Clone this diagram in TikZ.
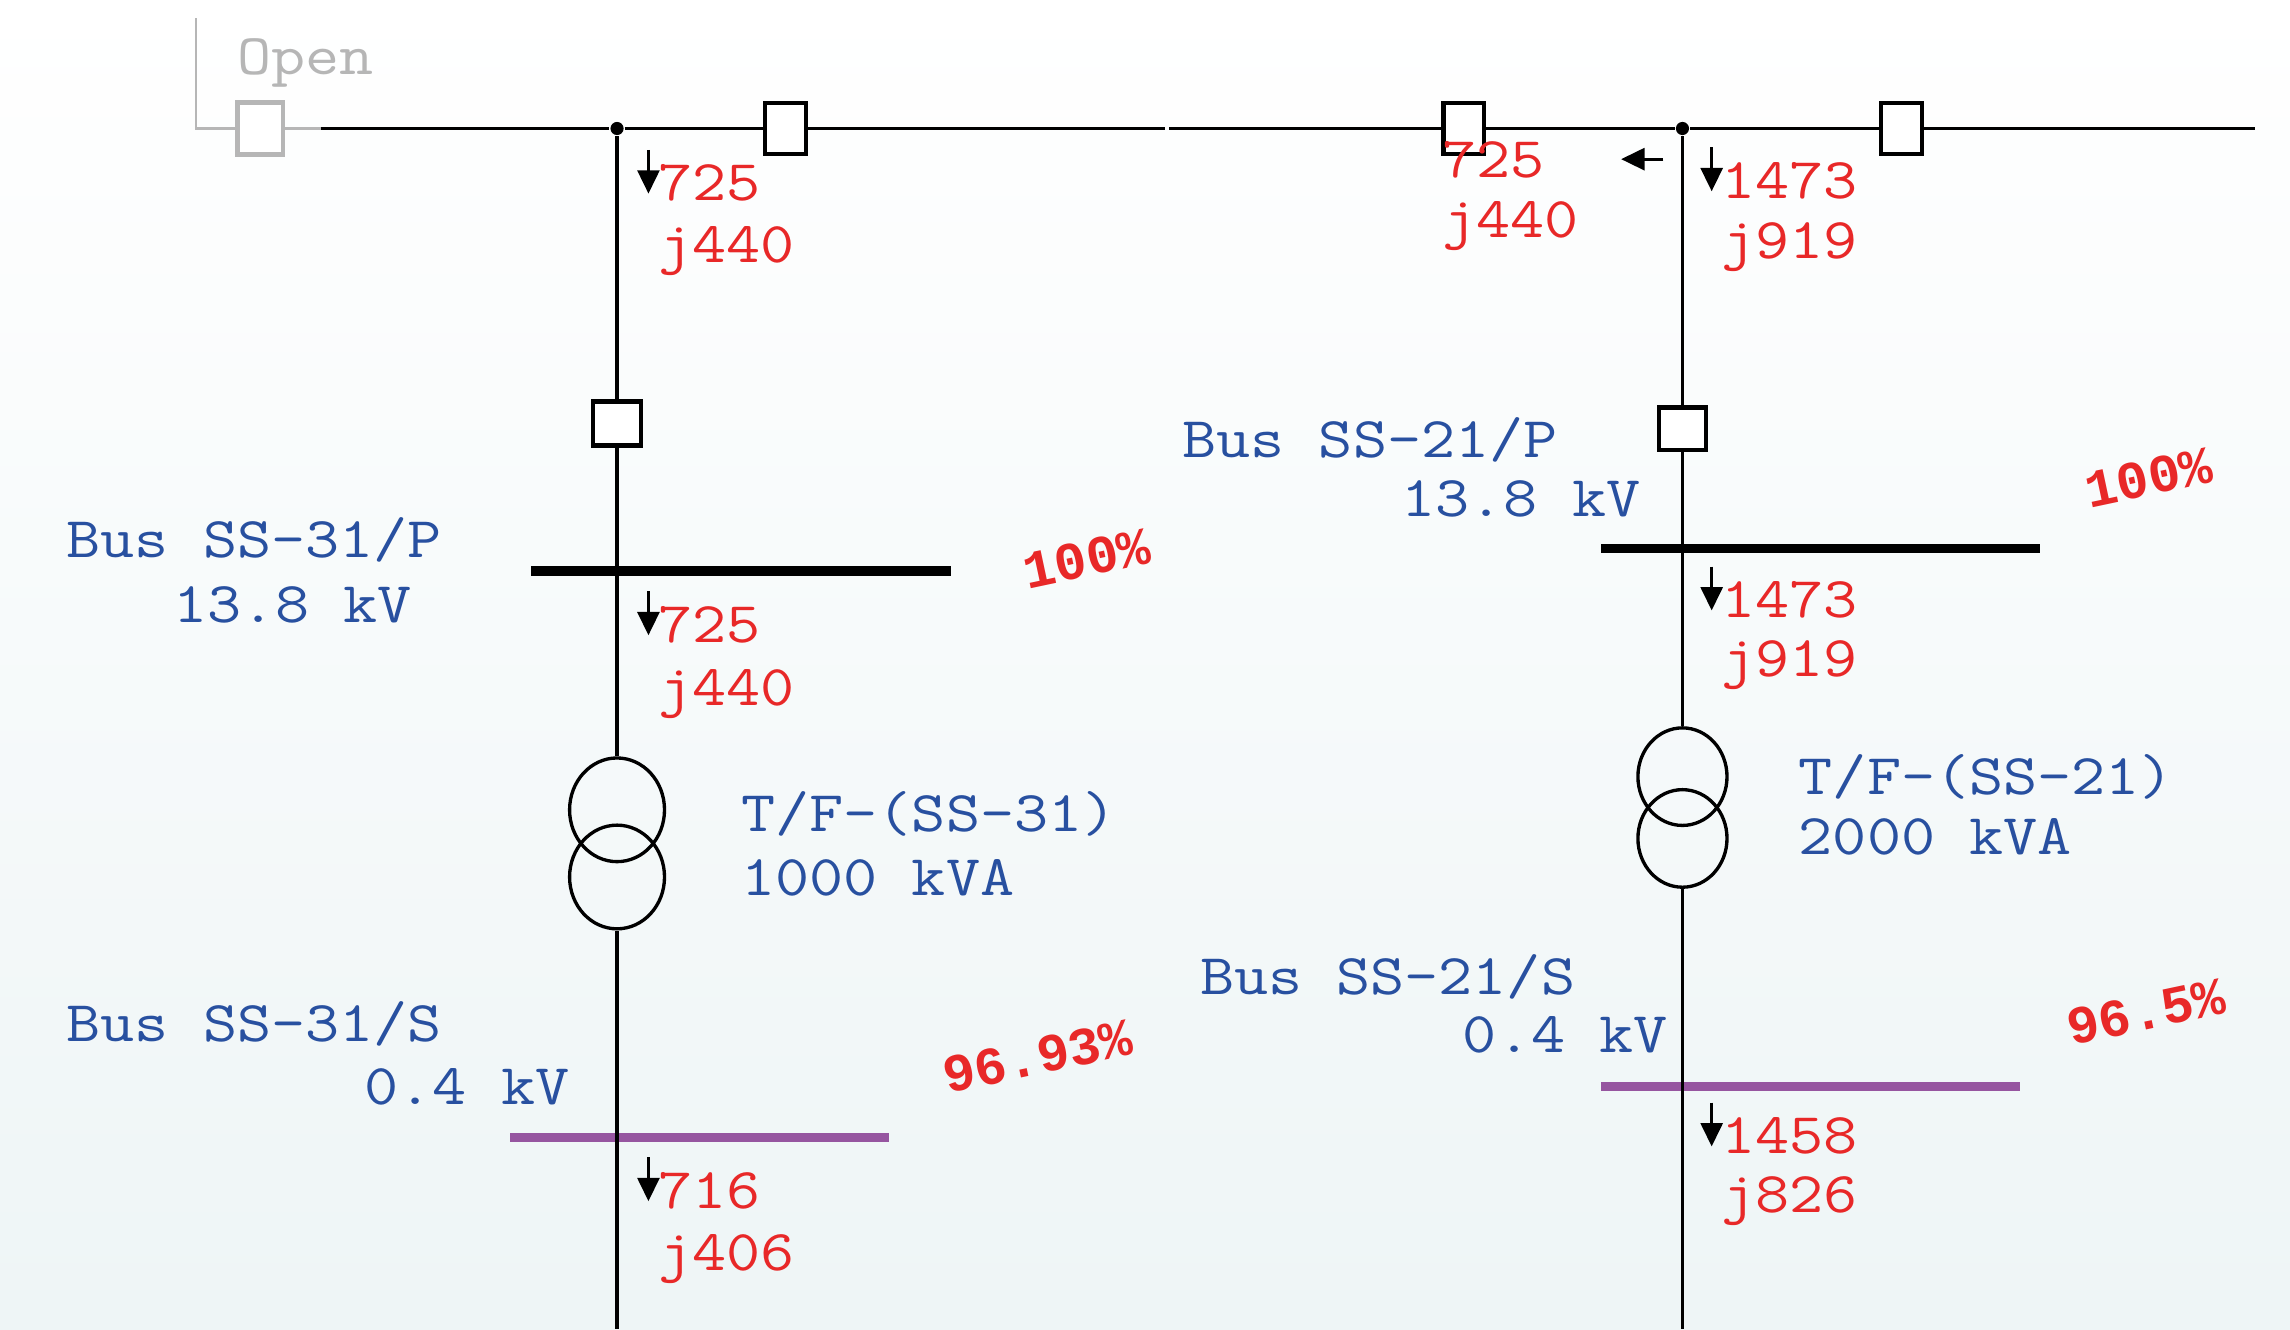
\documentclass[tikz,border=0pt]{standalone}
\usepackage{fontspec}
\newfontfamily\pctfont{Liberation Mono}
\usepackage{tikz}
\usetikzlibrary{arrows.meta,shapes.geometric}
\definecolor{busblue}{RGB}{40,80,160}
\definecolor{flowred}{RGB}{232,40,40}
\definecolor{lvpurple}{RGB}{150,85,160}
\definecolor{opengray}{RGB}{182,182,182}
\definecolor{bgbottom}{RGB}{238,245,246}

\begin{document}
\begin{tikzpicture}[
    txt/.style={font=\fontsize{12.9}{14}\ttfamily, inner sep=0pt, anchor=base west, yscale=0.87},
    busname/.style={txt, text=busblue},
    flow/.style={txt, text=flowred},
    pct/.style={font=\fontsize{10.4}{12}\pctfont\bfseries, text=flowred, inner sep=0pt, rotate=12},
    brk/.style={draw, line width=0.85pt, fill=white, inner sep=0pt, minimum width=0.28cm, minimum height=0.345cm},
    vbrk/.style={brk, minimum width=0.33cm, minimum height=0.30cm},
    jdot/.style={circle, fill=black, inner sep=0pt, minimum size=0.09cm},
    coil/.style={ellipse, draw, line width=0.65pt, inner sep=0pt, minimum width=0.65cm, minimum height=0.71cm},
    hvbus/.style={fill=black, inner sep=0pt, minimum height=0.066cm},
    lvbus/.style={fill=lvpurple, inner sep=0pt, minimum height=0.065cm},
    wire/.style={line width=0.65pt},
    arr/.style={line width=0.6pt, -{Triangle[length=0.16cm, width=0.15cm]}}
  ]
    \useasboundingbox (0,0) rectangle (15.68,9.10);
    \fill[top color=white, bottom color=bgbottom] (0,0) rectangle (15.68,9.10);

    \coordinate (opTop) at (1.342,8.975);
    \node[brk, draw=opengray, minimum width=0.31cm, minimum height=0.355cm] (opBrk) at (1.782,8.22) {};
    \node[txt, text=opengray] (opLbl) at (1.62,8.593) {Open};
    \coordinate (busW) at (2.198,8.22);
    \node[jdot] (dotA) at (4.225,8.22) {};
    \node[brk] (brkT1) at (5.38,8.22) {};
    \coordinate (gapL) at (7.975,8.22);
    \coordinate (gapR) at (8.005,8.22);
    \node[brk] (brkT2) at (10.023,8.22) {};
    \node[jdot] (dotB) at (11.52,8.22) {};
    \node[brk] (brkT3) at (13.018,8.22) {};
    \coordinate (busE) at (15.44,8.22);

    \draw[wire, line width=0.5pt, opengray] (opTop) -- (opTop |- opBrk) -- (opBrk) -- (busW);
    \draw[wire] (busW) -- (dotA) -- (brkT1) -- (gapL);
    \draw[wire] (gapR) -- (brkT2) -- (dotB) -- (brkT3) -- (busE);

    \node[vbrk] (brkA) at (4.225,6.20) {};
    \node[hvbus, minimum width=2.876cm] (busAP) at (5.072,5.19) {};
    \node[coil] (tfA1) at (4.225,3.555) {};
    \node[coil] (tfA2) at (4.225,3.095) {};
    \node[lvbus, minimum width=2.594cm] (busAS) at (4.787,1.31) {};
    \coordinate (endA) at (4.225,0);
    \draw[wire] (dotA) -- (brkA) -- (tfA1);
    \draw[wire] (tfA2) -- (endA);

    \node[vbrk, minimum width=0.32cm, minimum height=0.29cm] (brkB) at (11.52,6.165) {};
    \node[hvbus, minimum width=3.006cm] (busBP) at (12.463,5.345) {};
    \node[coil, minimum width=0.61cm, minimum height=0.668cm] (tfB1) at (11.52,3.782) {};
    \node[coil, minimum width=0.61cm, minimum height=0.668cm] (tfB2) at (11.52,3.359) {};
    \node[lvbus, minimum width=2.87cm] (busBS) at (12.395,1.662) {};
    \coordinate (endB) at (11.52,0);
    \draw[wire] (dotB) -- (brkB) -- (tfB1);
    \draw[wire] (tfB2) -- (endB);

    \node[busname] (nmAP) at (0.45,5.28) {Bus SS-31/P};
    \node[busname] (kvAP) at (1.18,4.835) {13.8 kV};
    \node[busname] (tfnA) at (5.07,3.405) {T/F-(SS-31)};
    \node[busname] (kvaA) at (5.07,2.97) {1000 kVA};
    \node[busname] (nmAS) at (0.45,1.97) {Bus SS-31/S};
    \node[busname] (kvAS) at (2.49,1.54) {0.4 kV};

    \node[busname] (nmBP) at (8.09,5.97) {Bus SS-21/P};
    \node[busname] (kvBP) at (9.59,5.56) {13.8 kV};
    \node[busname] (tfnB) at (12.31,3.66) {T/F-(SS-21)};
    \node[busname] (kvaB) at (12.31,3.25) {2000 kVA};
    \node[busname] (nmBS) at (8.21,2.293) {Bus SS-21/S};
    \node[busname] (kvBS) at (10.01,1.89) {0.4 kV};

    \node[flow] (pA1) at (4.50,7.724) {725};
    \node[flow] (qA1) at (4.50,7.30) {j440};
    \node[flow] (pA2) at (4.50,4.70) {725};
    \node[flow] (qA2) at (4.50,4.27) {j440};
    \node[flow] (pA3) at (4.50,0.825) {716};
    \node[flow] (qA3) at (4.50,0.40) {j406};
    \node[flow] (pT) at (9.87,7.883) {725};
    \node[flow] (qT) at (9.87,7.474) {j440};
    \node[flow] (pB1) at (11.78,7.74) {1473};
    \node[flow] (qB1) at (11.78,7.33) {j919};
    \node[flow] (pB2) at (11.78,4.87) {1473};
    \node[flow] (qB2) at (11.78,4.47) {j919};
    \node[flow] (pB3) at (11.78,1.20) {1458};
    \node[flow] (qB3) at (11.78,0.795) {j826};

    \draw[arr] (pA1.base west) ++(-0.06,0.35) -- ++(0,-0.30);
    \draw[arr] (pA2.base west) ++(-0.06,0.35) -- ++(0,-0.30);
    \draw[arr] (pA3.base west) ++(-0.06,0.35) -- ++(0,-0.30);
    \draw[arr] (pB1.base west) ++(-0.06,0.35) -- ++(0,-0.30);
    \draw[arr] (pB2.base west) ++(-0.06,0.35) -- ++(0,-0.30);
    \draw[arr] (pB3.base west) ++(-0.06,0.35) -- ++(0,-0.30);
    \draw[arr] (dotB) ++(-0.13,-0.21) -- ++(-0.29,0);

    \node[pct] (vAP) at (7.44,5.275) {100\%};
    \node[pct] (vBP) at (14.71,5.83) {100\%};
    \node[pct] (vAS) at (7.105,1.865) {96.93\%};
    \node[pct] (vBS) at (14.695,2.17) {96.5\%};
  \end{tikzpicture}
\end{document}
